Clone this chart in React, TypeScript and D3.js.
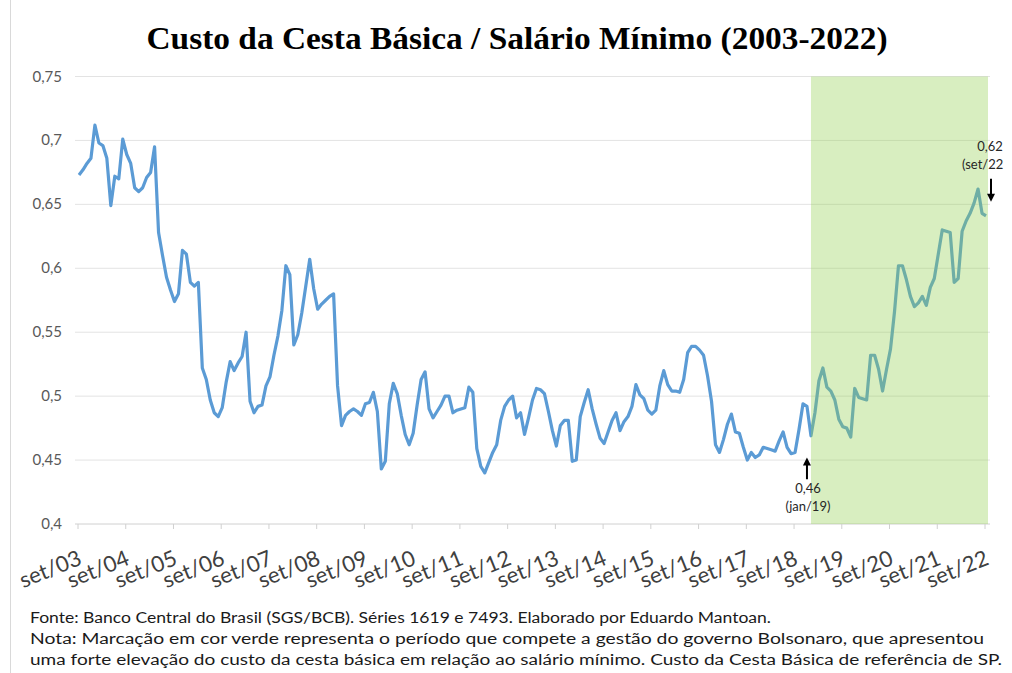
import React from 'react';
import * as d3 from 'd3';

// Custo da cesta básica / salário mínimo, mensal, set/03 a set/22
const ratio = [
  0.673, 0.677, 0.682, 0.686, 0.712, 0.698, 0.696, 0.686, 0.649, 0.672, 0.670, 0.701,
  0.689, 0.682, 0.663, 0.660, 0.663, 0.671, 0.675, 0.695, 0.628, 0.610, 0.593, 0.583,
  0.574, 0.580, 0.614, 0.611, 0.589, 0.586, 0.589, 0.522, 0.513, 0.497, 0.487, 0.484,
  0.491, 0.511, 0.527, 0.520, 0.526, 0.531, 0.550, 0.496, 0.487, 0.492, 0.493, 0.508,
  0.515, 0.532, 0.547, 0.567, 0.602, 0.595, 0.540, 0.548, 0.565, 0.586, 0.607, 0.584,
  0.568, 0.572, 0.575, 0.578, 0.580, 0.508, 0.477, 0.485, 0.488, 0.490, 0.488, 0.485,
  0.494, 0.495, 0.503, 0.488, 0.443, 0.449, 0.494, 0.510, 0.502, 0.485, 0.470, 0.462,
  0.471, 0.493, 0.513, 0.519, 0.490, 0.483, 0.488, 0.493, 0.500, 0.500, 0.487, 0.489,
  0.490, 0.491, 0.507, 0.503, 0.459, 0.445, 0.440, 0.448, 0.456, 0.462, 0.481, 0.492,
  0.497, 0.500, 0.483, 0.487, 0.470, 0.483, 0.497, 0.506, 0.505, 0.502, 0.488, 0.473,
  0.461, 0.477, 0.481, 0.481, 0.449, 0.450, 0.484, 0.495, 0.505, 0.490, 0.478, 0.467,
  0.463, 0.472, 0.481, 0.487, 0.473, 0.480, 0.484, 0.492, 0.509, 0.501, 0.498, 0.489,
  0.486, 0.489, 0.508, 0.520, 0.509, 0.504, 0.504, 0.503, 0.513, 0.534, 0.539, 0.539,
  0.536, 0.532, 0.516, 0.496, 0.462, 0.456, 0.466, 0.478, 0.486, 0.472, 0.471, 0.460,
  0.450, 0.456, 0.452, 0.454, 0.460, 0.459, 0.458, 0.457, 0.465, 0.472, 0.460, 0.455,
  0.456, 0.474, 0.494, 0.492, 0.469, 0.487, 0.512, 0.522, 0.507, 0.504, 0.497, 0.482,
  0.476, 0.475, 0.468, 0.506, 0.499, 0.498, 0.497, 0.532, 0.532, 0.521, 0.504, 0.521,
  0.537, 0.566, 0.602, 0.602, 0.591, 0.578, 0.570, 0.573, 0.578, 0.571, 0.585, 0.592,
  0.611, 0.630, 0.629, 0.628, 0.589, 0.592, 0.629, 0.637, 0.643, 0.651, 0.662, 0.643,
  0.641,
];

const yearLabels = [
  'set/03', 'set/04', 'set/05', 'set/06', 'set/07', 'set/08', 'set/09', 'set/10',
  'set/11', 'set/12', 'set/13', 'set/14', 'set/15', 'set/16', 'set/17', 'set/18',
  'set/19', 'set/20', 'set/21', 'set/22',
];

const yTicks = [0.4, 0.45, 0.5, 0.55, 0.6, 0.65, 0.7, 0.75];

const bolsonaroStart = 184; // jan/19

const notes = [
  'Fonte: Banco Central do Brasil (SGS/BCB). Séries 1619 e 7493.  Elaborado por Eduardo Mantoan.',
  'Nota: Marcação em cor verde representa o período que compete a gestão do governo Bolsonaro, que apresentou',
  'uma forte elevação do custo da cesta básica em relação ao salário mínimo. Custo da Cesta Básica de referência de SP.',
];
const noteWidths = [741, 954, 972];

const W = 1012;
const H = 673;
const sans = 'Lato, "Open Sans", sans-serif';

export default function App() {
  const x = d3.scaleLinear().domain([0, ratio.length - 1]).range([79, 986]);
  const y = d3.scaleLinear().domain([0.4, 0.75]).range([524, 76.5]);

  const line = d3.line<number>()
    .x((_, i) => x(i))
    .y(d => y(d));

  const fmt = (v: number) => String(v).replace('.', ',');

  const gx0 = 75;
  const gx1 = 990;

  const a1x = x(bolsonaroStart) - 4;
  const a2x = x(ratio.length - 1) + 5;

  return (
    <svg width={W} height={H} style={{ position: 'absolute', left: 0, top: 0, background: '#fff' }}>
      <line x1={10.5} x2={10.5} y1={0} y2={H} stroke="#d9d9d9" />

      <text x={517} y={49} textAnchor="middle" fontFamily='"Liberation Serif", "Times New Roman", serif'
        fontWeight="bold" fontSize={32} fill="#000" textLength={741} lengthAdjust="spacingAndGlyphs">
        Custo da Cesta Básica / Salário Mínimo (2003-2022)
      </text>

      {yTicks.map(t => (
        <g key={t}>
          <line x1={gx0} x2={gx1} y1={y(t)} y2={y(t)} stroke={t === 0.4 ? '#d0d0d0' : '#e3e3e3'} strokeWidth={1} />
          <text x={62} y={y(t) + 5} textAnchor="end" fontFamily={sans} fontSize={15} fill="#595959">
            {fmt(t)}
          </text>
        </g>
      ))}

      {yearLabels.map((lab, k) => {
        const tx = x(k * 12) - 1;
        return (
          <g key={lab}>
            <line x1={tx} x2={tx} y1={y(0.4)} y2={y(0.4) + 5} stroke="#d0d0d0" />
            <text transform={`translate(${tx + 5},${y(0.4) + 40}) rotate(-22)`} textAnchor="end"
              fontFamily={sans} fontSize={22} fill="#404040">
              {lab}
            </text>
          </g>
        );
      })}

      <path d={line(ratio) ?? ''} fill="none" stroke="#5b9bd5" strokeWidth={3.2} strokeLinejoin="round" />

      <rect x={x(bolsonaroStart)} y={y(0.75)} width={gx1 - 2 - x(bolsonaroStart)} height={y(0.4) - y(0.75)}
        fill="#92d050" fillOpacity={0.36} />

      {/* anotação jan/19 */}
      <line x1={a1x} x2={a1x} y1={y(0.452) + 6} y2={y(0.435)} stroke="#000" strokeWidth={2} />
      <path d={`M${a1x - 4},${y(0.452) + 8} L${a1x},${y(0.452)} L${a1x + 4},${y(0.452) + 8} Z`} fill="#000" />
      <text x={a1x + 1} y={y(0.4242)} textAnchor="middle" fontFamily={sans} fontSize={13} fill="#262626">0,46</text>
      <text x={a1x + 1} y={y(0.410)} textAnchor="middle" fontFamily={sans} fontSize={13} fill="#262626">(jan/19)</text>

      {/* anotação set/22 */}
      <line x1={a2x} x2={a2x} y1={y(0.67)} y2={y(0.652) - 6} stroke="#000" strokeWidth={2} />
      <path d={`M${a2x - 4},${y(0.652) - 8} L${a2x},${y(0.652)} L${a2x + 4},${y(0.652) - 8} Z`} fill="#000" />
      <text x={990} y={y(0.6917)} textAnchor="middle" fontFamily={sans} fontSize={13} fill="#262626">0,62</text>
      <text x={962} y={y(0.678)} fontFamily={sans} fontSize={13} fill="#262626">(set/22</text>

      {notes.map((n, i) => (
        <text key={i} x={30} y={623 + i * 21} fontFamily={sans} fontSize={15.5} fill="#1a1a1a"
          textLength={noteWidths[i]} lengthAdjust="spacingAndGlyphs">
          {n}
        </text>
      ))}
    </svg>
  );
}
